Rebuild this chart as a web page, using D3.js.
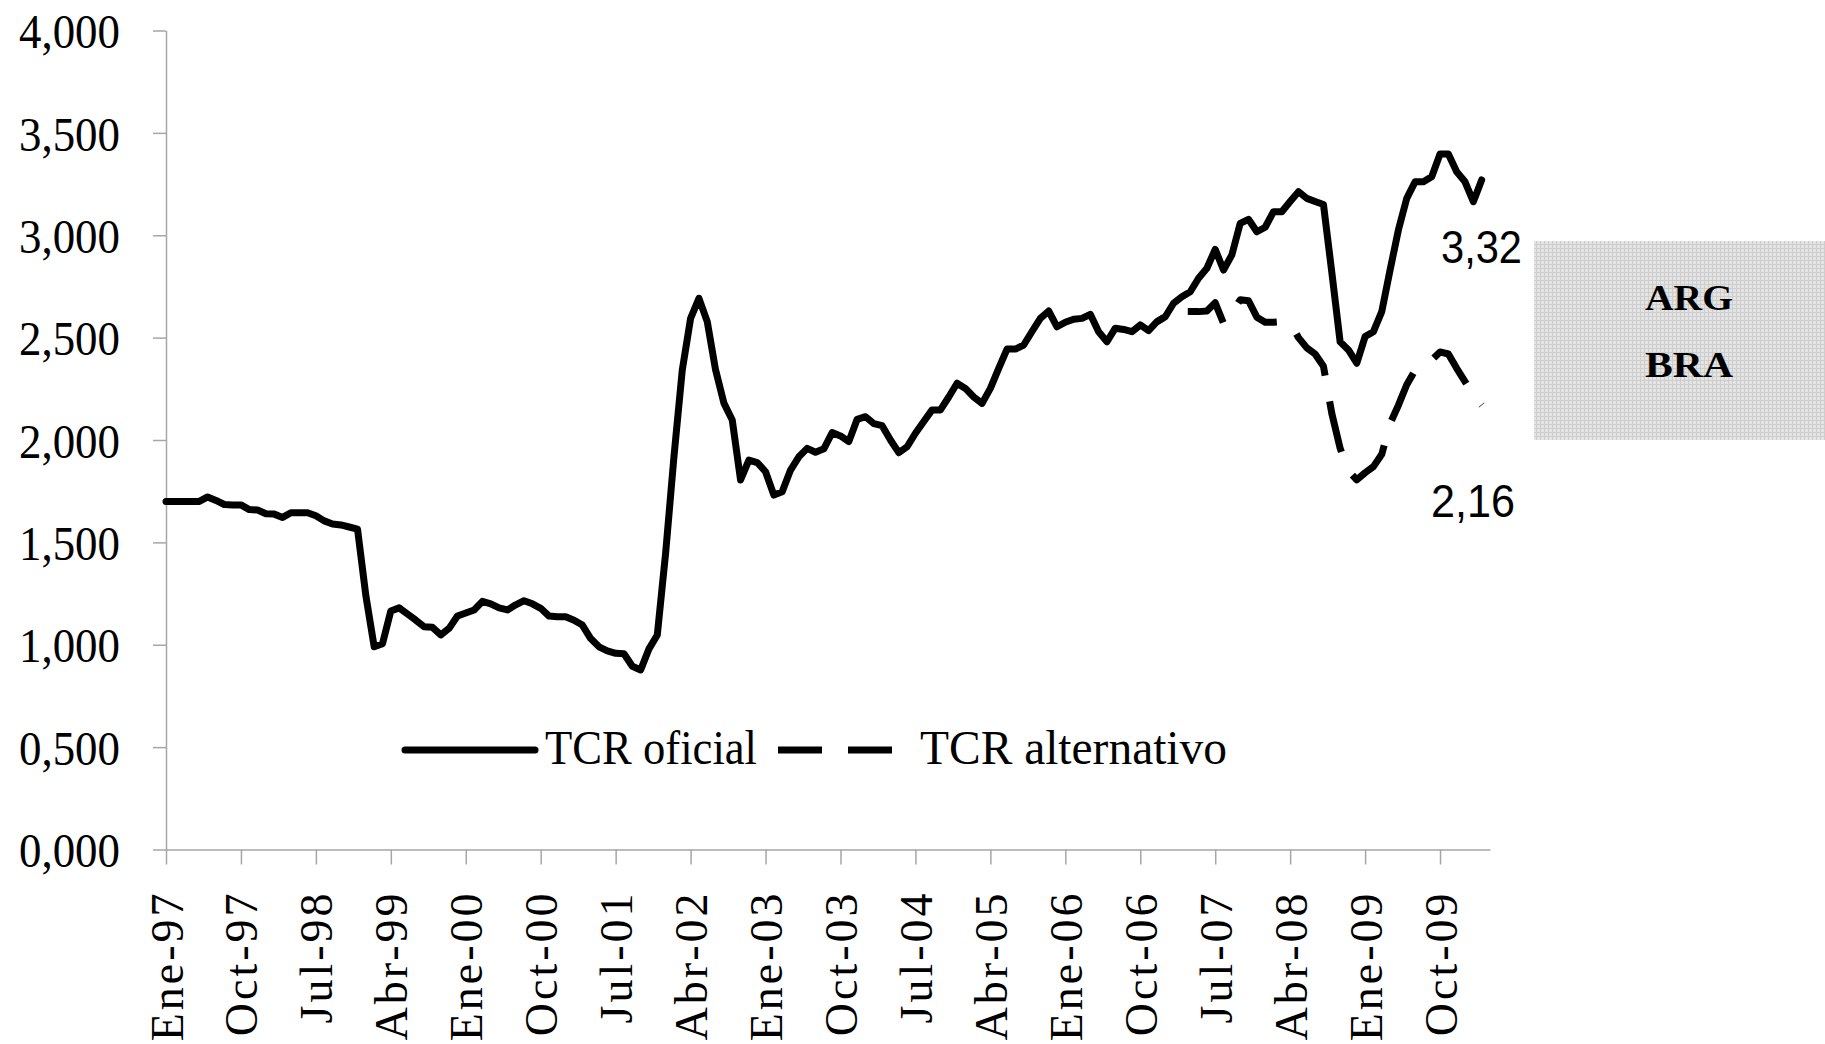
<!DOCTYPE html>
<html>
<head>
<meta charset="utf-8">
<script src="https://cdn.jsdelivr.net/npm/d3@7"></script>
<style>
  body { margin: 0; background: #fff; }
  svg { display: block; }
</style>
</head>
<body>
<svg id="chart"></svg>
<script>
// TCR oficial, monthly from Ene-97 (index 0) to Mar-10
const tcrOficial = [
  1.700, 1.700, 1.700, 1.700, 1.700, 1.722, 1.705, 1.685, 1.683, 1.683,
  1.660, 1.658, 1.640, 1.638, 1.622, 1.645, 1.645, 1.645, 1.630, 1.605,
  1.590, 1.585, 1.575, 1.565, 1.240, 0.990, 1.005, 1.165, 1.180, 1.150,
  1.120, 1.088, 1.085, 1.048, 1.080, 1.140, 1.155, 1.170, 1.212, 1.200,
  1.180, 1.170, 1.195, 1.215, 1.200, 1.178, 1.140, 1.137, 1.137, 1.120,
  1.096, 1.030, 0.990, 0.970, 0.958, 0.956, 0.895, 0.877, 0.980, 1.048,
  1.447, 1.918, 2.342, 2.594, 2.692, 2.578, 2.342, 2.180, 2.098, 1.805,
  1.902, 1.890, 1.845, 1.731, 1.747, 1.853, 1.918, 1.959, 1.940, 1.957,
  2.036, 2.020, 1.992, 2.101, 2.114, 2.080, 2.070, 2.000, 1.938, 1.967,
  2.033, 2.090, 2.147, 2.147, 2.210, 2.277, 2.252, 2.210, 2.179, 2.252,
  2.350, 2.444, 2.444, 2.464, 2.530, 2.594, 2.630, 2.553, 2.575, 2.590,
  2.594, 2.614, 2.529, 2.480, 2.546, 2.540, 2.529, 2.562, 2.534, 2.578,
  2.602, 2.668, 2.700, 2.724, 2.790, 2.839, 2.931, 2.830, 2.904, 3.058,
  3.078, 3.017, 3.039, 3.115, 3.115, 3.165, 3.213, 3.180, 3.165, 3.150,
  2.820, 2.480, 2.440, 2.375, 2.505, 2.529, 2.627, 2.830, 3.026, 3.180,
  3.261, 3.261, 3.286, 3.397, 3.397, 3.310, 3.261, 3.164, 3.270
]

// TCR alternativo: same as oficial before this index (hidden under it)
const altStart = 119
const tcrAlternativo = [
  2.578, 2.602, 2.630, 2.627, 2.627, 2.627, 2.630, 2.670, 2.570, 2.620,
  2.685, 2.680, 2.600, 2.575, 2.575, 2.578, 2.570, 2.500, 2.450, 2.420,
  2.360, 2.130, 1.960, 1.850, 1.805, 1.840, 1.870, 1.930, 2.080, 2.170,
  2.270, 2.340, 2.370, 2.390, 2.430, 2.420, 2.350, 2.285, 2.220, 2.170
]

const mesNombres = ["Ene", "Feb", "Mar", "Abr", "May", "Jun", "Jul", "Ago", "Sep", "Oct", "Nov", "Dic"]
const firstYear = 1997
const tickStep = 9
const nCategorias = 160
const yTicks = [0, 0.5, 1, 1.5, 2, 2.5, 3, 3.5, 4]
const legendLabels = ["TCR oficial", "TCR alternativo"]
const notaOficial = "3,32"
const notaAlternativo = "2,16"
const recuadro = ["ARG", "BRA"]

const W = 1825, H = 1044
const svg = d3.select("#chart").attr("width", W).attr("height", H)

const x = d3.scaleLinear().domain([0, nCategorias - 1]).range([166, 1490])
const y = d3.scaleLinear().domain([0, 4]).range([849.5, 30.5])

const coma = d3.formatLocale({ decimal: ",", thousands: ".", grouping: [3], currency: ["$", ""] })
const fmt = coma.format(".3f")

function mesLabel(i) {
  const m = i % 12
  const yr = (firstYear + Math.floor(i / 12)) % 100
  return mesNombres[m] + "-" + String(yr).padStart(2, "0")
}

// pattern for the grey box
const defs = svg.append("defs")
const pat = defs.append("pattern")
  .attr("id", "grid").attr("width", 4).attr("height", 4)
  .attr("patternUnits", "userSpaceOnUse")
pat.append("rect").attr("width", 4).attr("height", 4).attr("fill", "#e4e4e4")
pat.append("path").attr("d", "M0,0.5H4M0.5,0V4").attr("stroke", "#cdcdcd").attr("stroke-width", 1)

// y axis
const yAxis = svg.append("g")
  .attr("transform", `translate(${x(0)},0)`)
  .call(d3.axisLeft(y).tickValues(yTicks).tickSize(13).tickSizeOuter(0).tickPadding(33).tickFormat(fmt))
yAxis.select(".domain").attr("stroke", "#a6a6a6").attr("stroke-width", 1.5)
yAxis.selectAll(".tick line").attr("stroke", "#a6a6a6").attr("stroke-width", 1.5)
yAxis.selectAll(".tick text")
  .attr("font-family", "'Liberation Serif', serif")
  .attr("font-size", 49)
  .attr("fill", "#000")
  .attr("dy", "0.35em")
  .attr("textLength", 101)
  .attr("lengthAdjust", "spacingAndGlyphs")

// x axis
const xAxis = svg.append("g")
  .attr("transform", `translate(0,${y(0)})`)
  .call(d3.axisBottom(x).tickValues(d3.range(0, nCategorias, tickStep)).tickSize(15).tickSizeOuter(0).tickFormat(mesLabel))
xAxis.select(".domain").attr("stroke", "#a6a6a6").attr("stroke-width", 1.5)
xAxis.selectAll(".tick line").attr("stroke", "#a6a6a6").attr("stroke-width", 1.5)
xAxis.selectAll(".tick text")
  .attr("font-family", "'Liberation Serif', serif")
  .attr("font-size", 46)
  .attr("fill", "#000")
  .attr("letter-spacing", "3px")
  .attr("transform", "rotate(-90)")
  .attr("text-anchor", "end")
  .attr("x", -41)
  .attr("y", 16)
  .attr("dy", 0)

// lines
const line = d3.line()
  .x(d => x(d[0]))
  .y(d => y(d[1]))

svg.append("path")
  .datum(tcrOficial.map((v, i) => [i, v]))
  .attr("d", line)
  .attr("fill", "none")
  .attr("stroke", "#000")
  .attr("stroke-width", 7)
  .attr("stroke-linejoin", "round")
  .attr("stroke-linecap", "round")

svg.append("path")
  .datum(tcrAlternativo.map((v, i) => [i + altStart, v]))
  .attr("d", line)
  .attr("fill", "none")
  .attr("stroke", "#000")
  .attr("stroke-width", 7)
  .attr("stroke-linejoin", "round")
  .attr("stroke-dasharray", "52,26")
  .attr("stroke-dashoffset", 44)

// legend
const leg = svg.append("g")
leg.append("line")
  .attr("x1", 405).attr("x2", 535).attr("y1", 750).attr("y2", 750)
  .attr("stroke", "#000").attr("stroke-width", 7).attr("stroke-linecap", "round")
leg.append("text")
  .attr("x", 545).attr("y", 764)
  .attr("font-family", "'Liberation Serif', serif").attr("font-size", 48)
  .attr("textLength", 212).attr("lengthAdjust", "spacingAndGlyphs")
  .text(legendLabels[0])
leg.append("line")
  .attr("x1", 778).attr("x2", 893).attr("y1", 750).attr("y2", 750)
  .attr("stroke", "#000").attr("stroke-width", 7).attr("stroke-dasharray", "44,26")
leg.append("text")
  .attr("x", 920).attr("y", 764)
  .attr("font-family", "'Liberation Serif', serif").attr("font-size", 48)
  .attr("textLength", 307).attr("lengthAdjust", "spacingAndGlyphs")
  .text(legendLabels[1])

// end-value notes
svg.append("text")
  .attr("x", 1441).attr("y", 263)
  .attr("font-family", "'Liberation Sans', Arial, sans-serif").attr("font-size", 46)
  .attr("textLength", 81).attr("lengthAdjust", "spacingAndGlyphs")
  .text(notaOficial)
svg.append("text")
  .attr("x", 1431).attr("y", 517)
  .attr("font-family", "'Liberation Sans', Arial, sans-serif").attr("font-size", 46)
  .attr("textLength", 84).attr("lengthAdjust", "spacingAndGlyphs")
  .text(notaAlternativo)

// grey box ARG / BRA
svg.append("rect")
  .attr("x", 1534).attr("y", 241).attr("width", 291).attr("height", 199)
  .attr("fill", "url(#grid)")
svg.selectAll(".pais")
  .data(recuadro)
  .join("text")
  .attr("class", "pais")
  .attr("x", 1689)
  .attr("y", (d, i) => 310 + i * 67)
  .attr("text-anchor", "middle")
  .attr("font-family", "'Liberation Serif', serif")
  .attr("font-weight", "bold")
  .attr("font-size", 36)
  .attr("textLength", 88).attr("lengthAdjust", "spacingAndGlyphs")
  .text(d => d)
</script>
</body>
</html>
